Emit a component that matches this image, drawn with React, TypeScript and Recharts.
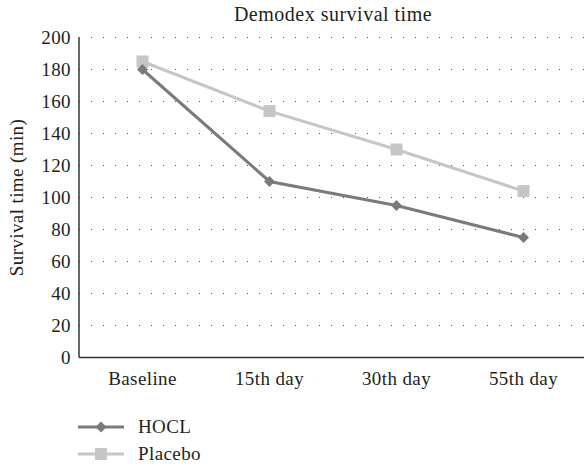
import React from "react";
import { LineChart, Line, XAxis, YAxis, CartesianGrid, Legend, Label } from "recharts";

const categories = ["Baseline", "15th day", "30th day", "55th day"];
const hoclValues = [180, 110, 95, 75];
const placeboValues = [185, 154, 130, 104];
const yTicks = [0, 20, 40, 60, 80, 100, 120, 140, 160, 180, 200];
const title = "Demodex survival time";
const yLabel = "Survival time (min)";

const data = categories.map((c, i) => ({ name: c, HOCL: hoclValues[i], Placebo: placeboValues[i] }));

const FONT =
  "'Liberation Serif', 'DejaVu Serif', 'Noto Serif', 'Noto Serif CJK SC', 'Noto Serif CJK JP', Tinos, FreeSerif, 'Nimbus Roman', 'Times New Roman', Times, serif";
const TEXT = "#231f20";
const HOCL_COLOR = "#7a7a7a";
const PLACEBO_COLOR = "#c6c6c6";

const Diamond = (props: any) => {
  const { cx, cy, size = 6, fill } = props;
  if (cx == null || cy == null) return null;
  return (
    <polygon
      points={`${cx},${cy - size} ${cx + size},${cy} ${cx},${cy + size} ${cx - size},${cy}`}
      fill={fill}
    />
  );
};

const Square = (props: any) => {
  const { cx, cy, size = 6, fill } = props;
  if (cx == null || cy == null) return null;
  return <rect x={cx - size} y={cy - size} width={size * 2} height={size * 2} fill={fill} />;
};

const legendItems = [
  { name: "HOCL", color: HOCL_COLOR, shape: "diamond" },
  { name: "Placebo", color: PLACEBO_COLOR, shape: "square" },
];

const LegendContent = () => (
  <div style={{ height: 54, width: 200 }}>
    {legendItems.map((it) => (
      <div key={it.name} style={{ height: 27, display: "flex", alignItems: "center" }}>
        <svg width={46} height={20} style={{ display: "block" }}>
          <line x1={0} y1={10} x2={46} y2={10} stroke={it.color} strokeWidth={3} />
          {it.shape === "diamond" ? (
            <Diamond cx={23} cy={10} size={5.5} fill={it.color} />
          ) : (
            <Square cx={23} cy={10} size={6} fill={it.color} />
          )}
        </svg>
        <span
          style={{
            marginLeft: 14,
            fontFamily: FONT,
            fontSize: 19,
            letterSpacing: 0.4,
            color: TEXT,
            lineHeight: "20px",
          }}
        >
          {it.name}
        </span>
      </div>
    ))}
  </div>
);

const YLabelContent = (props: any) => {
  const vb = props.viewBox || {};
  const cy = (vb.y || 0) + (vb.height || 0) / 2;
  const cx = 16;
  return (
    <text
      x={cx}
      y={cy}
      transform={`rotate(-90, ${cx}, ${cy})`}
      textAnchor="middle"
      dominantBaseline="central"
      style={{ fontFamily: FONT, fontSize: 19, letterSpacing: 0.4 }}
      fill={TEXT}
    >
      {yLabel}
    </text>
  );
};

const tickStyle = { fontFamily: FONT, fontSize: 19, letterSpacing: 0.4 };

export default function App() {
  return (
    <div
      style={{
        position: "fixed",
        left: 0,
        top: 0,
        width: 584,
        height: 468,
        overflow: "hidden",
        background: "#fff",
      }}
    >
      <div
        style={{
          position: "absolute",
          left: 79,
          width: 508,
          top: 0,
          textAlign: "center",
          fontFamily: FONT,
          fontSize: 20,
          letterSpacing: 0.5,
          color: TEXT,
          lineHeight: "28px",
          zIndex: 2,
        }}
      >
        {title}
      </div>
      <LineChart
        width={587}
        height={468}
        data={data}
        margin={{ top: 37.5, right: 0, left: 0, bottom: 26.5 }}
        style={{ fontFamily: FONT }}
      >
        <CartesianGrid vertical={false} stroke="#555" strokeDasharray="1 11" />
        <XAxis
          dataKey="name"
          height={30}
          padding={{ left: 63.5, right: 63.5 }}
          tickLine={false}
          axisLine={{ stroke: "#333", strokeWidth: 1.5 }}
          tickMargin={8}
          tick={{ style: tickStyle, fill: TEXT }}
          interval={0}
        />
        <YAxis
          width={79}
          domain={[0, 200]}
          ticks={yTicks}
          tickLine={false}
          axisLine={{ stroke: "#333", strokeWidth: 1.5 }}
          tick={{ style: tickStyle, fill: TEXT }}
          interval={0}
        >
          <Label content={YLabelContent} />
        </YAxis>
        <Legend
          layout="vertical"
          align="center"
          verticalAlign="bottom"
          wrapperStyle={{ left: 78, top: 413, width: 200 }}
          content={LegendContent}
        />
        <Line
          dataKey="Placebo"
          stroke={PLACEBO_COLOR}
          strokeWidth={3}
          isAnimationActive={false}
          dot={(p: any) => <Square key={`p-${p.index}`} cx={p.cx} cy={p.cy} size={6} fill={PLACEBO_COLOR} />}
          activeDot={false}
        />
        <Line
          dataKey="HOCL"
          stroke={HOCL_COLOR}
          strokeWidth={3}
          isAnimationActive={false}
          dot={(p: any) => <Diamond key={`h-${p.index}`} cx={p.cx} cy={p.cy} size={5.5} fill={HOCL_COLOR} />}
          activeDot={false}
        />
      </LineChart>
    </div>
  );
}
